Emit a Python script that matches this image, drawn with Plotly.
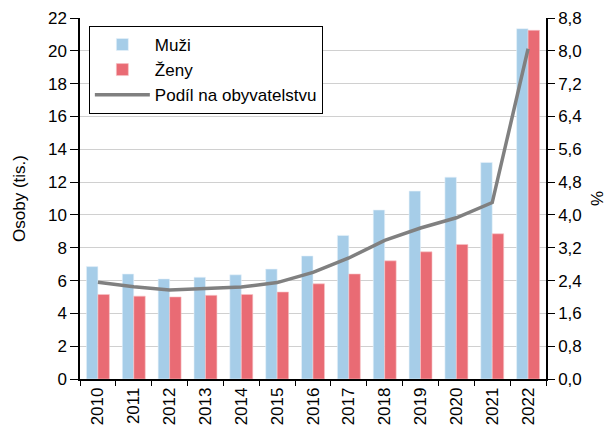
import plotly.graph_objects as go

years = ["2010", "2011", "2012", "2013", "2014", "2015", "2016", "2017", "2018", "2019", "2020", "2021", "2022"]
muzi = [6.85, 6.4, 6.1, 6.2, 6.35, 6.7, 7.5, 8.75, 10.3, 11.45, 12.3, 13.2, 21.35]
zeny = [5.15, 5.05, 5.0, 5.1, 5.15, 5.3, 5.8, 6.4, 7.2, 7.75, 8.2, 8.85, 21.25]
podil = [2.36, 2.25, 2.17, 2.2, 2.24, 2.35, 2.6, 2.95, 3.38, 3.68, 3.93, 4.3, 8.05]

FONT = "Liberation Sans, Arial, sans-serif"

fig = go.Figure()
fig.add_trace(go.Bar(x=years, y=muzi, name="Muži", marker_color="#a6cde8",
                     marker_line=dict(width=0.6, color="#e8f2fa"), legendgroup="a"))
fig.add_trace(go.Bar(x=years, y=zeny, name="Ženy", marker_color="#e96b74",
                     marker_line=dict(width=0.6, color="#f6c4c8"), legendgroup="b"))
fig.add_trace(go.Scatter(x=years, y=podil, name="Podíl na obyvatelstvu", mode="lines",
                         line=dict(color="#808080", width=3.5), yaxis="y2", legendgroup="c"))

fig.update_layout(
    width=608, height=420,
    margin=dict(l=72, r=70, t=10, b=49, autoexpand=False),
    paper_bgcolor="white", plot_bgcolor="white",
    font=dict(family=FONT, size=17, color="black"),
    separators=", ",
    barmode="group", bargap=0.36, bargroupgap=0,
    showlegend=True,
    legend=dict(x=0.019, y=0.978, xanchor="left", yanchor="top",
                bgcolor="white", bordercolor="black", borderwidth=1,
                font=dict(family=FONT, size=17), traceorder="grouped",
                tracegroupgap=0, itemwidth=55),
    xaxis=dict(type="category", showline=True, linecolor="black", linewidth=1.5,
               ticks="outside", tickson="boundaries", ticklen=5, tickcolor="black",
               tickangle=-90, showgrid=False, tickfont=dict(size=17), automargin=False),
    yaxis=dict(range=[0, 22], dtick=2, showline=True, linecolor="black", linewidth=1.5,
               ticks="outside", ticklen=8, tickcolor="black",
               showgrid=True, gridcolor="#d0d0d0", gridwidth=1,
               title=dict(text="Osoby (tis.)", font=dict(size=17), standoff=18),
               zeroline=False, automargin=False),
    yaxis2=dict(range=[0, 8.8], dtick=0.8, tickformat=".1f", overlaying="y", side="right",
                showline=True, linecolor="black", linewidth=1.5,
                ticks="outside", ticklen=7, tickcolor="black", showgrid=False,
                title=dict(text="%", font=dict(size=17), standoff=10), zeroline=False,
                automargin=False),
)

fig.write_html("out.html")
